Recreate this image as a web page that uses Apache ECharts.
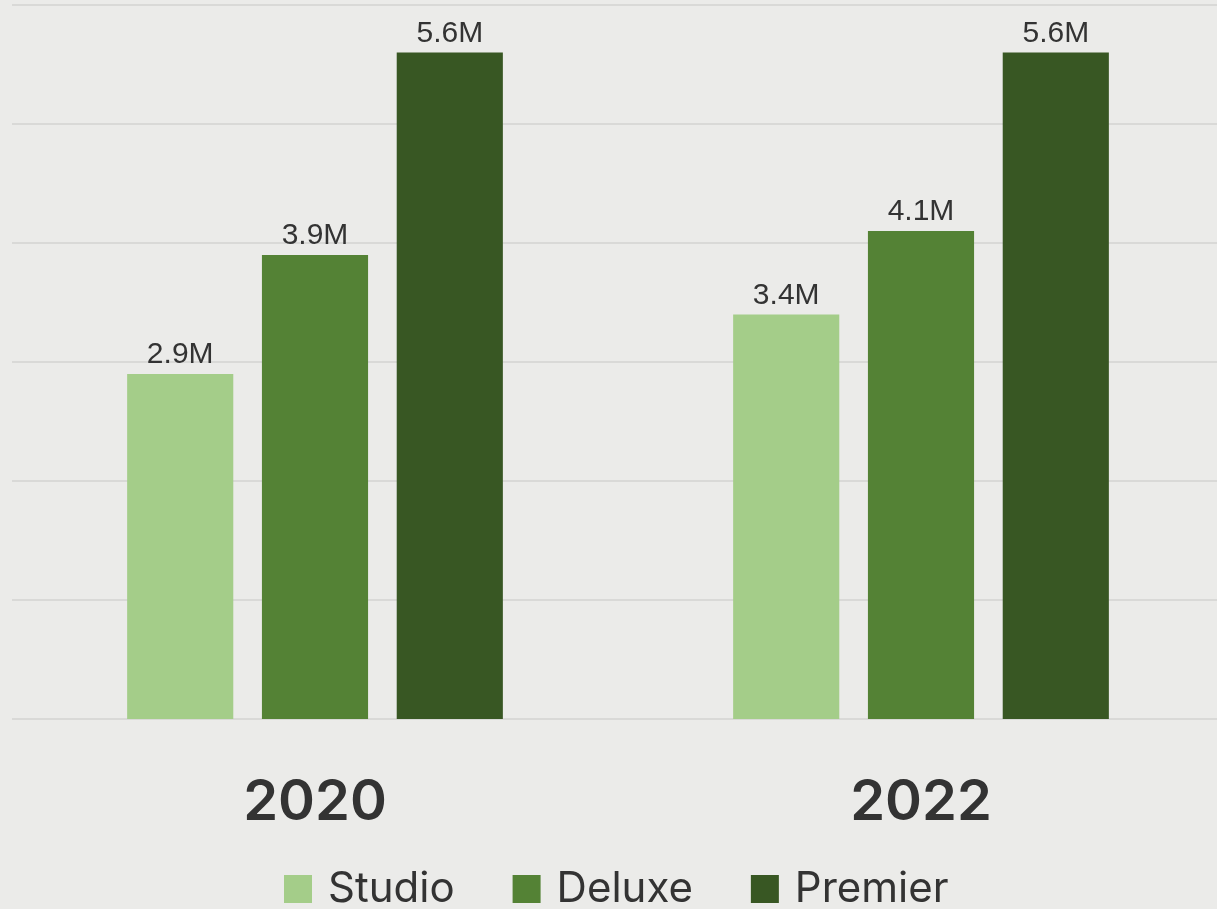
<!DOCTYPE html>
<html>
<head>
<meta charset="utf-8">
<title>Studio, Deluxe and Premier — 2020 vs 2022</title>
<script src="https://cdn.jsdelivr.net/npm/echarts@6/dist/echarts.min.js"></script>
<style>
  html, body { margin: 0; padding: 0; background: #ebebe9; }
  #chart { width: 1217px; height: 909px; }
</style>
</head>
<body>
<div id="chart"></div>
<script>
// Years on the category axis
const years = ['2020', '2022'];

// Values in millions for each tier
const studio = [2.9, 3.4];
const deluxe = [3.9, 4.1];
const premier = [5.6, 5.6];

const seriesNames = ['Studio', 'Deluxe', 'Premier'];
const seriesColors = ['#a4cd89', '#548235', '#385723'];

const chart = echarts.init(document.getElementById('chart'));

const labelStyle = {
  show: true,
  position: 'top',
  distance: 4,
  color: '#333333',
  fontFamily: 'Liberation Sans, Arial, sans-serif',
  fontSize: 30,
  formatter: p => p.value + 'M'
};

function makeSeries(name, data, color) {
  return {
    name: name,
    type: 'bar',
    data: data,
    barGap: '27%',
    barCategoryGap: '38%',
    itemStyle: { color: color },
    label: labelStyle
  };
}

chart.setOption({
  backgroundColor: '#ebebe9',
  animation: false,
  // plot area runs a little past the right edge so the two groups sit evenly
  grid: {
    left: 12, width: 1212, top: 5, bottom: 190,
    containLabel: false,
    outerBoundsMode: 'none'
  },
  legend: {
    bottom: -1,
    left: 284,
    padding: 0,
    itemWidth: 28,
    itemHeight: 28,
    itemGap: 58,
    icon: 'rect',
    textStyle: {
      color: '#333333',
      fontFamily: 'Inter, Poppins, sans-serif',
      fontSize: 42,
      padding: [0, 0, 0, 11]
    },
    data: seriesNames
  },
  xAxis: {
    type: 'category',
    data: years,
    axisLine: { show: false },
    axisTick: { show: false },
    axisLabel: {
      margin: 56,
      color: '#333333',
      fontFamily: 'Inter, Poppins, sans-serif',
      fontWeight: 600,
      fontSize: 56
    }
  },
  yAxis: {
    type: 'value',
    min: 0,
    max: 6,
    interval: 1,
    axisLabel: { show: false },
    axisLine: { show: false },
    axisTick: { show: false },
    splitLine: { lineStyle: { color: '#d3d3d1', width: 1.5 } }
  },
  series: [
    makeSeries(seriesNames[0], studio, seriesColors[0]),
    makeSeries(seriesNames[1], deluxe, seriesColors[1]),
    makeSeries(seriesNames[2], premier, seriesColors[2])
  ]
});
</script>
</body>
</html>
